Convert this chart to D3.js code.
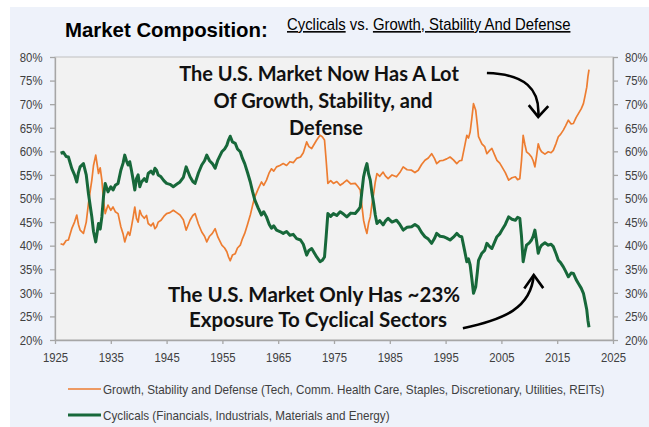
<!DOCTYPE html>
<html>
<head>
<meta charset="utf-8">
<script src="https://cdn.jsdelivr.net/npm/d3@7"></script>
<style>
  body { margin: 0; background: #fff; }
  svg { display: block; }
  .narrow { font-family: "Liberation Sans", Arial, sans-serif; }
  .axis text { fill: #404040; font-size: 13.5px; }
  .axis path, .axis line { stroke: #a6a6a6; stroke-width: 1.3; }
  .note { font-family: Lato, "Open Sans", sans-serif; font-weight: bold; fill: #111; }
</style>
</head>
<body>
<svg id="chart" width="649" height="427"></svg>
<script>
// shares of US market cap, %
const years = [
	1926.0, 1926.5, 1927.0, 1927.4, 1927.8, 1928.0, 1928.5, 1928.9, 1929.2, 1929.5,
	1930.1, 1930.6, 1931.0, 1931.3, 1931.6, 1931.9, 1932.3, 1932.8, 1933.1, 1933.4,
	1933.7, 1934.0, 1934.5, 1935.0, 1935.4, 1935.8, 1936.3, 1936.8, 1937.2, 1937.5,
	1937.8, 1938.1, 1938.4, 1938.7, 1939.0, 1939.3, 1939.6, 1939.9, 1940.2, 1940.5,
	1941.0, 1941.4, 1941.7, 1942.2, 1942.6, 1942.9, 1943.2, 1943.5, 1944.0, 1944.5,
	1945.0, 1945.6, 1946.2, 1946.8, 1947.4, 1948.0, 1948.5, 1948.9, 1949.2, 1949.7,
	1950.1, 1950.7, 1951.3, 1951.8, 1952.2, 1952.7, 1953.2, 1953.7, 1954.2, 1954.9,
	1955.4, 1955.8, 1956.1, 1956.4, 1956.8, 1957.3, 1957.7, 1958.2, 1958.6, 1959.0,
	1959.5, 1960.0, 1960.4, 1960.8, 1961.4, 1962.0, 1962.4, 1962.9, 1963.4, 1963.8,
	1964.2, 1964.7, 1965.3, 1965.9, 1966.5, 1967.1, 1967.7, 1968.3, 1969.0, 1969.5,
	1970.1, 1970.5, 1971.0, 1971.5, 1971.9, 1972.5, 1972.9, 1973.3, 1973.6, 1973.9,
	1974.4, 1974.9, 1975.5, 1976.1, 1976.7, 1977.3, 1978.0, 1978.8, 1979.3, 1979.7,
	1980.0, 1980.3, 1980.6, 1980.9, 1981.2, 1981.5, 1981.8, 1982.1, 1982.4, 1982.7,
	1983.2, 1983.8, 1984.2, 1984.7, 1985.4, 1986.2, 1986.8, 1987.4, 1988.1, 1988.9,
	1989.5, 1990.1, 1990.7, 1991.3, 1991.9, 1992.5, 1993.0, 1993.4, 1994.0, 1994.6,
	1995.2, 1995.8, 1996.4, 1997.0, 1997.5, 1997.9, 1998.4, 1998.8, 1999.1, 1999.4,
	1999.7, 2000.0, 2000.4, 2000.7, 2000.9, 2001.5, 2002.0, 2002.4, 2002.9, 2003.3,
	2003.8, 2004.2, 2004.7, 2005.1, 2005.7, 2006.3, 2006.9, 2007.5, 2007.9, 2008.3,
	2008.6, 2008.9, 2009.2, 2009.5, 2010.0, 2010.4, 2010.7, 2011.0, 2011.3, 2011.6,
	2011.9, 2012.2, 2012.8, 2013.4, 2013.9, 2014.3, 2014.8, 2015.2, 2015.6, 2016.1,
	2016.5, 2017.0, 2017.5, 2017.9, 2018.4, 2018.8, 2019.3, 2019.7, 2020.0, 2020.3,
	2020.5, 2020.7
];

const cyclicals = [
	59.6, 59.8, 58.9, 58.8, 57.2, 56.4, 55.0, 53.5, 55.5, 56.7,
	57.4, 55.0, 51.0, 48.5, 46.1, 43.0, 40.8, 44.7, 43.5, 46.1,
	50.5, 53.2, 51.4, 52.5, 51.8, 52.8, 53.2, 56.0, 57.5, 59.2,
	58.0, 57.1, 57.8, 56.0, 54.0, 51.8, 54.2, 55.0, 52.5, 53.5,
	54.2, 53.6, 55.3, 55.8, 55.2, 56.4, 56.0, 55.0, 54.6, 53.8,
	53.2, 53.0, 52.5, 53.0, 53.5, 54.5, 56.7, 55.5, 54.6, 53.6,
	53.2, 55.4, 57.1, 58.0, 59.2, 58.0, 57.4, 56.4, 58.2, 59.9,
	60.5, 61.3, 62.4, 63.2, 62.0, 61.7, 60.5, 59.9, 58.5, 57.4,
	55.5, 53.5, 51.5, 49.7, 48.0, 46.5, 47.2, 46.1, 44.5, 43.7,
	44.2, 43.3, 43.0, 42.6, 43.0, 42.2, 42.4, 41.5, 41.2, 40.3,
	38.0, 39.0, 39.4, 38.4, 37.6, 36.6, 36.9, 37.6, 42.0, 46.8,
	46.2, 46.8, 46.4, 47.2, 46.7, 46.1, 46.9, 46.8, 47.5, 48.2,
	51.5, 54.6, 56.2, 57.4, 55.2, 53.9, 51.2, 49.0, 46.5, 44.7,
	45.3, 44.4, 45.2, 45.8, 45.0, 45.4, 44.5, 43.3, 43.9, 44.0,
	44.5, 44.0, 42.8, 41.9, 41.4, 40.5, 41.5, 42.6, 42.0, 41.9,
	41.6, 41.2, 41.8, 42.6, 42.0, 41.9, 39.0, 36.6, 37.2, 35.9,
	33.0, 29.9, 31.3, 34.5, 36.9, 38.4, 39.0, 40.5, 39.8, 39.4,
	40.8, 41.9, 42.5, 43.3, 44.5, 46.1, 45.6, 45.4, 46.0, 45.8,
	42.0, 36.6, 38.5, 40.1, 40.6, 41.2, 42.0, 43.3, 41.0, 38.4,
	39.5, 40.1, 40.6, 40.1, 40.3, 39.8, 38.3, 36.9, 36.4, 35.5,
	34.6, 33.4, 34.2, 34.1, 32.8, 32.0, 31.0, 29.9, 28.2, 26.4,
	24.2, 22.7
];

const growth = [
	40.4, 40.2, 41.1, 41.2, 42.8, 43.6, 45.0, 46.5, 44.5, 43.3,
	42.6, 45.0, 49.0, 51.5, 53.9, 57.0, 59.2, 55.3, 56.5, 53.9,
	49.5, 46.8, 48.6, 47.5, 48.2, 47.2, 46.8, 44.0, 42.5, 40.8,
	42.0, 42.9, 42.2, 44.0, 46.0, 48.2, 45.8, 45.0, 47.5, 46.5,
	45.8, 46.4, 44.7, 44.2, 44.8, 43.6, 44.0, 45.0, 45.4, 46.2,
	46.8, 47.0, 47.5, 47.0, 46.5, 45.5, 43.3, 44.5, 45.4, 46.4,
	46.8, 44.6, 42.9, 42.0, 40.8, 42.0, 42.6, 43.6, 41.8, 40.1,
	39.5, 38.7, 37.6, 36.8, 38.0, 38.3, 39.5, 40.1, 41.5, 42.6,
	44.5, 46.5, 48.5, 50.3, 52.0, 53.5, 52.8, 53.9, 55.5, 56.3,
	55.8, 56.7, 57.0, 57.4, 57.0, 57.8, 57.6, 58.5, 58.8, 59.7,
	62.0, 61.0, 60.6, 61.6, 62.4, 63.4, 63.1, 62.4, 58.0, 53.2,
	53.8, 53.2, 53.6, 52.8, 53.3, 53.9, 53.1, 53.2, 52.5, 51.8,
	48.5, 45.4, 43.8, 42.6, 44.8, 46.1, 48.8, 51.0, 53.5, 55.3,
	54.7, 55.6, 54.8, 54.2, 55.0, 54.6, 55.5, 56.7, 56.1, 56.0,
	55.5, 56.0, 57.2, 58.1, 58.6, 59.5, 58.5, 57.4, 58.0, 58.1,
	58.4, 58.8, 58.2, 57.4, 58.0, 58.1, 61.0, 63.4, 62.8, 64.1,
	67.0, 70.1, 68.7, 65.5, 63.1, 61.6, 61.0, 59.5, 60.2, 60.6,
	59.2, 58.1, 57.5, 56.7, 55.5, 53.9, 54.4, 54.6, 54.0, 54.2,
	58.0, 63.4, 61.5, 59.9, 59.4, 58.8, 58.0, 56.7, 59.0, 61.6,
	60.5, 59.9, 59.4, 59.9, 59.7, 60.2, 61.7, 63.1, 63.6, 64.5,
	65.4, 66.6, 65.8, 65.9, 67.2, 68.0, 69.0, 70.1, 71.8, 73.6,
	75.8, 77.3
];

const xTicks = [1925, 1935, 1945, 1955, 1965, 1975, 1985, 1995, 2005, 2015, 2025];
const yTicks = [20, 25, 30, 35, 40, 45, 50, 55, 60, 65, 70, 75, 80];

const seriesNames = [
	"Growth, Stability and Defense (Tech, Comm. Health Care, Staples, Discretionary, Utilities, REITs)",
	"Cyclicals (Financials, Industrials, Materials and Energy)"
];
const seriesColors = ["#ED7D31", "#17683A"];

const topNote = ["The U.S. Market Now Has A Lot", "Of Growth, Stability, and", "Defense"];
const bottomNote = ["The U.S. Market Only Has ~23%", "Exposure To Cyclical Sectors"];

// arrows in data units: [year, pct]
const topArrow = [[2002.4, 76.6], [2009.2, 76.4], [2012.0, 73.2], [2011.6, 67.3]];
const topArrowHead = [[2009.9, 69.8], [2011.6, 67.3], [2013.4, 69.6]];
const bottomArrow = [[1998.1, 22.5], [2005.6, 24.4], [2010.3, 26.8], [2010.8, 33.8]];
const bottomArrowHead = [[2009.1, 30.9], [2010.8, 33.8], [2012.5, 31.0]];

const svg = d3.select("#chart");
const W = 649, H = 427;
const plot = { left: 55, right: 613, top: 57, bottom: 340 };
const squeeze = 0.84; // stands in for the narrow face of the original

// page frame
svg.append("rect")
	.attr("x", 10).attr("y", 7)
	.attr("width", W - 10).attr("height", H - 7)
	.attr("fill", "#EEF2FA");

const x = d3.scaleLinear().domain([1925, 2025]).range([plot.left, plot.right]);
const y = d3.scaleLinear().domain([20, 80]).range([plot.bottom, plot.top]);

svg.append("rect")
	.attr("x", plot.left).attr("y", plot.top)
	.attr("width", plot.right - plot.left).attr("height", plot.bottom - plot.top)
	.attr("fill", "#F2F2F2")
	.attr("stroke", "#BFBFBF")
	.attr("stroke-width", 1);

// axes
const fmt = d => d + "%";
svg.append("g").attr("class", "axis narrow")
	.attr("transform", `translate(${plot.left},0)`)
	.call(d3.axisLeft(y).tickValues(yTicks).tickFormat(fmt).tickSize(5).tickSizeOuter(0))
	.selectAll("text")
	.attr("x", -12.5 / squeeze)
	.attr("transform", `scale(${squeeze},1)`);
svg.append("g").attr("class", "axis narrow")
	.attr("transform", `translate(${plot.right},0)`)
	.call(d3.axisRight(y).tickValues(yTicks).tickFormat(fmt).tickSize(5).tickSizeOuter(0))
	.selectAll("text")
	.attr("x", 12 / squeeze)
	.attr("transform", `scale(${squeeze},1)`);
svg.append("g").attr("class", "axis narrow")
	.attr("transform", `translate(0,${plot.bottom})`)
	.call(d3.axisBottom(x).tickValues(xTicks).tickFormat(d3.format("d")).tickSize(4).tickSizeOuter(0).tickPadding(8))
	.selectAll("text")
	.attr("transform", `scale(${squeeze},1)`);

// lines
const pts = vals => years.map((yr, i) => [yr, vals[i]]);
const line = d3.line().x(d => x(d[0])).y(d => y(d[1]));

svg.append("path")
	.attr("d", line(pts(growth)))
	.attr("fill", "none")
	.attr("stroke", seriesColors[0])
	.attr("stroke-width", 1.7)
	.attr("stroke-linejoin", "round");

svg.append("path")
	.attr("d", line(pts(cyclicals)))
	.attr("fill", "none")
	.attr("stroke", seriesColors[1])
	.attr("stroke-width", 3)
	.attr("stroke-linejoin", "round");

// annotations
function addNote(lines, cx, firstBaseline, step, size, shifts){
	svg.append("text").attr("class", "note")
		.attr("text-anchor", "middle")
		.style("font-size", size + "px")
		.selectAll("tspan")
		.data(lines)
		.join("tspan")
		.attr("x", (d, i) => cx + shifts[i])
		.attr("y", (d, i) => firstBaseline + i * step)
		.text(d => d);
}
addNote(topNote, 326, 81, 27, 20, [-7, -3, 0]);
addNote(bottomNote, 318, 302, 25, 20.5, [-4, 0]);

const straight = d3.line().x(d => x(d[0])).y(d => y(d[1]));
[[topArrow, topArrowHead], [bottomArrow, bottomArrowHead]].forEach(([body, head]) => {
	const p = d3.path();
	const s = body.map(d => [x(d[0]), y(d[1])]);
	p.moveTo(s[0][0], s[0][1]);
	p.bezierCurveTo(s[1][0], s[1][1], s[2][0], s[2][1], s[3][0], s[3][1]);
	svg.append("path").attr("d", p.toString())
		.attr("fill", "none").attr("stroke", "#000").attr("stroke-width", 2.6);
	svg.append("path").attr("d", straight(head))
		.attr("fill", "none").attr("stroke", "#000").attr("stroke-width", 2.6)
		.attr("stroke-linejoin", "miter");
});

// title
svg.append("text")
	.attr("x", 65).attr("y", 37)
	.style("font-family", '"Liberation Sans", Arial, sans-serif')
	.style("font-weight", "bold").style("font-size", "20.4px")
	.attr("fill", "#000")
	.text("Market Composition:");

const sub = svg.append("text").attr("class", "narrow")
	.attr("transform", "translate(287,30) scale(0.93,1)")
	.style("font-size", "16px").attr("fill", "#000");
sub.append("tspan").attr("text-decoration", "underline").text("Cyclicals");
sub.append("tspan").text(" vs. ");
sub.append("tspan").attr("text-decoration", "underline").text("Growth, Stability And Defense");

// legend
const legend = svg.append("g").attr("class", "narrow");
const lg = legend.selectAll("g").data(seriesNames).join("g")
	.attr("transform", (d, i) => `translate(68,${389 + i * 26})`);
lg.append("line")
	.attr("x1", 0).attr("x2", 33)
	.attr("stroke", (d, i) => seriesColors[i])
	.attr("stroke-width", (d, i) => i ? 3 : 1.7);
lg.append("text")
	.attr("transform", "translate(35,0) scale(0.9,1)")
	.attr("dy", "0.35em")
	.style("font-size", "13px").attr("fill", "#404040")
	.text(d => d);
</script>
</body>
</html>
